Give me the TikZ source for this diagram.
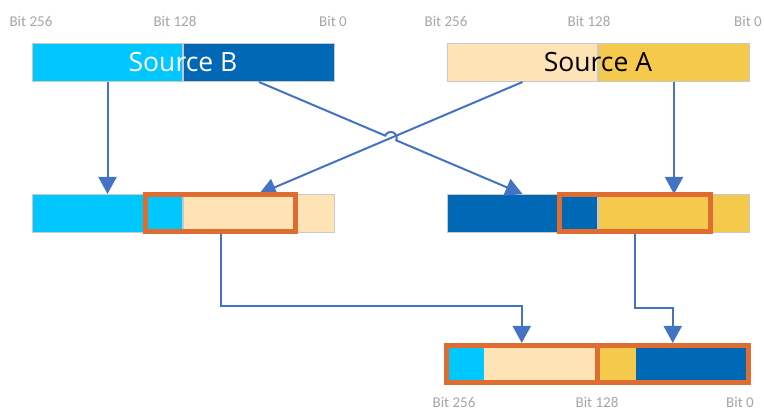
\documentclass[tikz,border=0pt]{standalone}
\usepackage{fontspec}
\setmainfont{Open Sans}
\newfontfamily\bitfont{Carlito}
\usetikzlibrary{arrows.meta,positioning,calc}

\definecolor{skyblue}{HTML}{00C8FF}
\definecolor{deepblue}{HTML}{0068B5}
\definecolor{sand}{HTML}{FDE3B5}
\definecolor{gold}{HTML}{F5C94C}
\definecolor{selorange}{HTML}{DF6C31}
\definecolor{wire}{HTML}{4472C4}
\definecolor{rim}{HTML}{C8C8C8}
\definecolor{bitgray}{HTML}{A6A6A6}

\tikzset{
  half/.style={draw=rim, line width=1pt, minimum width=150pt, minimum height=38pt,
    inner sep=0pt, outer sep=0.5pt, anchor=west},
  cell/.style={minimum height=37pt, inner sep=0pt, outer sep=0pt, anchor=west},
  pick/.style={draw=selorange, line width=5pt, minimum height=37pt, inner sep=0pt, outer sep=2.5pt},
  link/.style={draw=wire, line width=2pt, -{Triangle[length=17pt,width=18pt]}},
  bit/.style={font=\bitfont\fontsize{15}{18}\selectfont, text=bitgray, inner sep=0pt},
  srcname/.style={font=\fontsize{26.5}{31}\selectfont, inner sep=0pt}
}

\begin{document}
\begin{tikzpicture}[x=1pt,y=-1pt]
  \useasboundingbox (0,0) rectangle (764,411);

  % sources
  \node[half, fill=skyblue] (srcBhi) at (32,62.5) {};
  \node[half, fill=deepblue, right=0pt of srcBhi, minimum width=151pt] (srcBlo) {};
  \node[half, fill=sand] (srcAhi) at (447,62.5) {};
  \node[half, fill=gold, right=0pt of srcAhi, minimum width=151pt] (srcAlo) {};
  \node[srcname, text=white] (nameB) at (srcBhi.east) {Source B};
  \node[srcname, text=black] (nameA) at (srcAhi.east) {Source A};

  \node[bit] (tB256) at (31,21) {Bit 256};
  \node[bit] (tB128) at (175,21) {Bit 128};
  \node[bit] (tB0) at (333,21) {Bit 0};
  \node[bit] (tA256) at (446,21) {Bit 256};
  \node[bit] (tA128) at (589,21) {Bit 128};
  \node[bit] (tA0) at (748,21) {Bit 0};

  % concatenated pairs
  \node[half, fill=skyblue] (midLhi) at (32,213.5) {};
  \node[half, fill=sand, right=0pt of midLhi, minimum width=151pt] (midLlo) {};
  \node[half, fill=deepblue] (midRhi) at (447,213.5) {};
  \node[half, fill=gold, right=0pt of midRhi, minimum width=151pt] (midRlo) {};

  % result
  \node[cell, fill=skyblue, minimum width=37.5pt] (outLa) at (446.5,364) {};
  \node[cell, fill=sand, right=0pt of outLa, minimum width=113pt] (outLb) {};
  \node[cell, fill=gold, right=0pt of outLb, minimum width=39pt] (outRa) {};
  \node[cell, fill=deepblue, right=0pt of outRa, minimum width=112.5pt] (outRb) {};

  \node[bit] (rB256) at (454,402.5) {Bit 256};
  \node[bit] (rB128) at (597,402.5) {Bit 128};
  \node[bit] (rB0) at (740,402.5) {Bit 0};

  % arrows
  \coordinate (hop) at ($(srcBlo.south)!0.5!(midRhi.north)$);
  \draw[link] (srcBhi.south) -- (midLhi.north);
  \draw[link] (srcAlo.south) -- (midRlo.north);
  \draw[link] (srcAhi.south) -- (midLlo.north);
  \draw[link] (srcBlo.south) -- ($(hop)!6pt!(srcBlo.south)$)
    arc[start angle=156.87, end angle=-23.13, radius=6pt] -- (midRhi.north);

  % alignr windows
  \node[pick, minimum width=150pt] (selL) at (220.5,213) {};
  \node[pick, minimum width=151pt] (selR) at (635,213) {};
  \node[pick, minimum width=150.5pt] (outL) at (521.75,364) {};
  \node[pick, minimum width=151.5pt] (outR) at (672.75,364) {};

  \draw[link] (selL.south) -- (selL.south |- 0,306) -| (outL.north);
  \draw[link] (selR.south) -- (selR.south |- 0,308) -| (outR.north);
\end{tikzpicture}
\end{document}
